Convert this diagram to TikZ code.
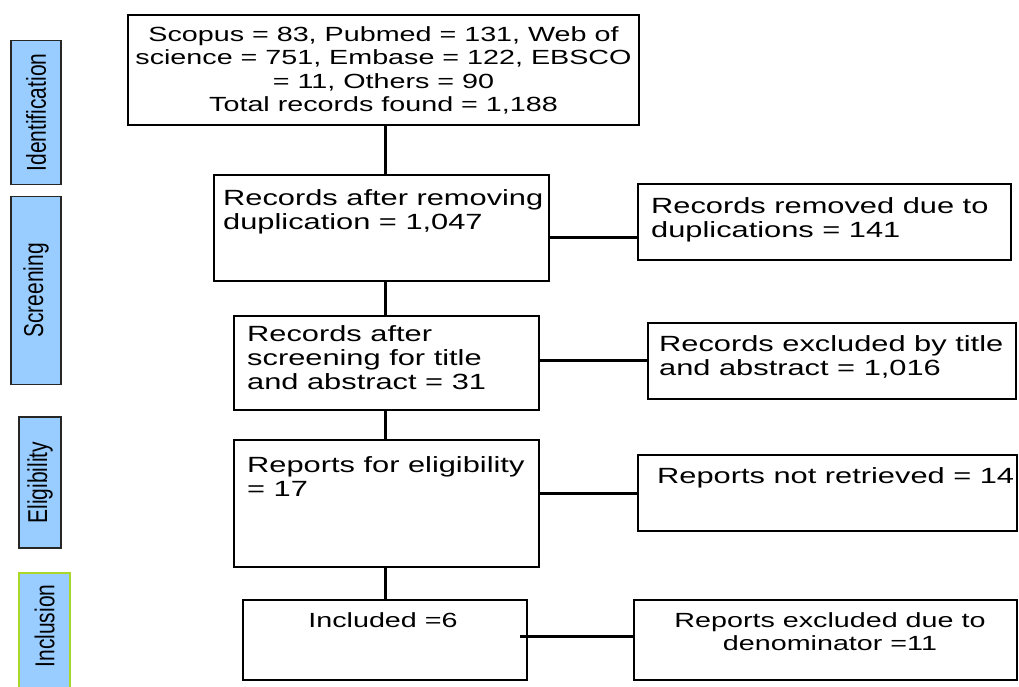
\documentclass[tikz,border=0pt]{standalone}
\usepackage{fontspec}
\setmainfont{Liberation Sans}
\newfontfamily\widefont[FakeStretch=1.4]{Liberation Sans}
\definecolor{barblue}{RGB}{153,204,255}
\definecolor{bargreen}{RGB}{170,215,40}
\begin{document}
\begin{tikzpicture}[x=1bp,y=-1bp,
  box/.style={draw=black, line width=2bp, inner sep=0pt},
  txt/.style={inner sep=0pt, font=\widefont\fontsize{22bp}{24bp}\selectfont},
  smalltxt/.style={inner sep=0pt, font=\widefont\fontsize{20.5bp}{23.5bp}\selectfont},
  conn/.style={draw=black, line width=3bp},
  bar/.style={draw=black!85, line width=1.5bp, fill=barblue, rotate=90, inner sep=0pt,
    font=\fontsize{21bp}{24bp}\selectfont},
  bartxt/.style={rotate=90, inner sep=0pt, font=\fontsize{21bp}{24bp}\selectfont}]
\useasboundingbox (0,0) rectangle (1019,687);

% side bars
\node[bar, minimum width=145, minimum height=50] (ident) at (36,112.5) {\scalebox{1}[1.3]{Identification}};
\node[bar, minimum width=189, minimum height=50] (screen) at (36,290.5) {\scalebox{1}[1.3]{Screening}};
\node[bar, minimum width=131, minimum height=42] (elig) at (40,482.5) {\scalebox{1}[1.3]{Eligibility}};
\node[bar, draw=bargreen, minimum width=130, minimum height=51] (incl) at (44.5,638) {};
\node[bartxt] (inclt) at (44.5,626) {\scalebox{1}[1.3]{Inclusion}};

% main boxes
\node[box, minimum width=513, minimum height=110] (top) at (383.5,70) {};
\node[box, minimum width=337, minimum height=106] (a2) at (381.5,228) {};
\node[box, minimum width=375, minimum height=76] (r1) at (824.5,222) {};
\node[box, minimum width=307, minimum height=94] (a3) at (386.5,363) {};
\node[box, minimum width=370, minimum height=76] (r2) at (832,361) {};
\node[box, minimum width=307, minimum height=127] (a4) at (386.5,503.5) {};
\node[box, minimum width=381, minimum height=76] (r3) at (827.5,493) {};
\node[box, minimum width=286, minimum height=80] (a5) at (385,640) {};
\node[box, minimum width=385, minimum height=80] (r4) at (825.5,640) {};

% texts
\node[smalltxt, align=center] (ttop) at (383.5,70.5) {Scopus = 83, Pubmed = 131, Web of\\science = 751, Embase = 122, EBSCO\\= 11, Others = 90\\Total records found = 1,188};
\node[txt, align=left, anchor=north west] (ta2) at (223,189) {Records after removing\\duplication = 1,047};
\node[txt, align=left, anchor=north west] (tr1) at (651,197) {Records removed due to\\duplications = 141};
\node[txt, align=left, anchor=north west] (ta3) at (247,325) {Records after\\screening for title\\and abstract = 31};
\node[txt, align=left, anchor=north west] (tr2) at (659,335) {Records excluded by title\\and abstract = 1,016};
\node[txt, align=left, anchor=north west] (ta4) at (247,456) {Reports for eligibility\\= 17};
\node[txt, align=left, anchor=north west] (tr3) at (657,467) {Reports not retrieved = 14};
\node[smalltxt, align=center, anchor=north] (ta5) at (383,612) {Included =6};
\node[smalltxt, align=center, anchor=north] (tr4) at (830,612) {Reports excluded due to\\denominator =11};

% connectors
\coordinate (vx) at (385,0);
\coordinate (h1) at (0,237);
\coordinate (h2) at (0,360);
\coordinate (h3) at (0,493);
\coordinate (h4) at (0,636);
\draw[conn] (top.south -| vx) -- (a2.north -| vx);
\draw[conn] (a2.south -| vx) -- (a3.north -| vx);
\draw[conn] (a3.south -| vx) -- (a4.north -| vx);
\draw[conn] (a4.south -| vx) -- (a5.north -| vx);
\draw[conn] (a2.east |- h1) -- (r1.west |- h1);
\draw[conn] (a3.east |- h2) -- (r2.west |- h2);
\draw[conn] (a4.east |- h3) -- (r3.west |- h3);
\draw[conn] ([xshift=-8bp]a5.east |- h4) -- (r4.west |- h4);
\end{tikzpicture}
\end{document}
